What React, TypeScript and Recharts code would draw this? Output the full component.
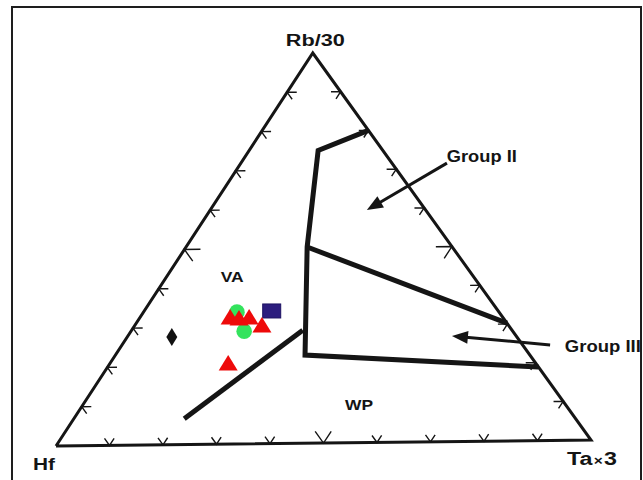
import React from "react";
import { ReferenceDot, Scatter, ScatterChart, XAxis, YAxis } from "recharts";

type Tern = { rb: number; hf: number; ta: number };

// corners of the diagram (percent)
const corners: Tern[] = [
  { rb: 0, hf: 100, ta: 0 },
  { rb: 0, hf: 0, ta: 100 },
  { rb: 100, hf: 0, ta: 0 },
];

// field boundaries
const groupIIBoundary: Tern[] = [
  { rb: 80, hf: 0, ta: 20 },
  { rb: 75, hf: 12, ta: 13 },
  { rb: 50.3, hf: 26.9, ta: 22.8 },
  { rb: 22.6, hf: 41.7, ta: 35.7 },
  { rb: 18.9, hf: 0, ta: 81.1 },
];
const groupIIIBoundary: Tern[] = [
  { rb: 50.3, hf: 26.9, ta: 22.8 },
  { rb: 30.2, hf: 0, ta: 69.8 },
];
const vaWpBoundary: Tern[] = [
  { rb: 6.6, hf: 72.6, ta: 20.8 },
  { rb: 29.0, hf: 38.8, ta: 32.2 },
];

// samples
const diamondSamples: Tern[] = [{ rb: 27.6, hf: 64.0, ta: 8.4 }];
const squareSamples: Tern[] = [{ rb: 34.0, hf: 42.0, ta: 24.0 }];
const circleSamples: Tern[] = [
  { rb: 33.8, hf: 48.6, ta: 17.6 },
  { rb: 28.9, hf: 49.8, ta: 21.3 },
];
const triangleSamples: Tern[] = [
  { rb: 32.6, hf: 50.5, ta: 16.9 },
  { rb: 32.3, hf: 49.0, ta: 18.7 },
  { rb: 32.5, hf: 47.0, ta: 20.5 },
  { rb: 30.4, hf: 45.7, ta: 23.9 },
  { rb: 20.8, hf: 57.0, ta: 22.2 },
];

// arrows: tail, tip
const arrowGroupII: Tern[] = [
  { rb: 71.4, hf: -10.2, ta: 38.8 },
  { rb: 59.6, hf: 10.9, ta: 29.5 },
];
const arrowGroupIII: Tern[] = [
  { rb: 24.5, hf: -5.1, ta: 80.6 },
  { rb: 27.1, hf: 11.9, ta: 61.0 },
];

const fieldLabels = ["VA", "WP", "Group II", "Group III"];
const fieldLabelPos: Tern[] = [
  { rb: 42.8, hf: 44.8, ta: 12.4 },
  { rb: 9.7, hf: 38.3, ta: 52.0 },
  { rb: 73.1, hf: -17.6, ta: 44.5 },
  { rb: 24.0, hf: -14.7, ta: 90.7 },
];

const tickSteps = [10, 20, 30, 40, 50, 60, 70, 80, 90];

// the printed triangle is not equilateral: apex sits a bit left, base tilts up to the right
const APEX_X = 48;
const BASE_TILT = 1.5;
const toXY = (p: Tern) => {
  const s = p.rb + p.hf + p.ta;
  return {
    x: (p.ta * 100 + p.rb * APEX_X) / s,
    y: (p.ta * BASE_TILT + p.rb * 100) / s,
  };
};

const outline = [...corners, corners[0]].map(toXY);

const tickPoints = tickSteps.flatMap((t) => {
  const L = t === 50 ? 3 : 1.8;
  return [
    // Hf - Ta edge
    { rb: L, hf: 100 - t - L, ta: t },
    { rb: 0, hf: 100 - t, ta: t },
    { rb: L, hf: 100 - t, ta: t - L },
    // Hf - Rb edge
    { rb: t, hf: 100 - t - L, ta: L },
    { rb: t, hf: 100 - t, ta: 0 },
    { rb: t - L, hf: 100 - t, ta: L },
    // Ta - Rb edge
    { rb: t, hf: L, ta: 100 - t - L },
    { rb: t, hf: 0, ta: 100 - t },
    { rb: t - L, hf: L, ta: 100 - t },
  ].map(toXY);
});

const INK = "#151515";
const font = { fontFamily: "'Liberation Sans', Arial, sans-serif", fontWeight: 700, fill: "#141414" };

const none = () => <g />;

const chevrons = (props: any) => {
  const pts = props.points || [];
  let d = "";
  for (let i = 0; i + 2 < pts.length; i += 3) {
    d += `M${pts[i].x},${pts[i].y}L${pts[i + 1].x},${pts[i + 1].y}L${pts[i + 2].x},${pts[i + 2].y}`;
  }
  return <path d={d} fill="none" stroke={INK} strokeWidth={1.4} />;
};

const arrow = (props: any) => {
  const [a, b] = props.points;
  const dx = b.x - a.x;
  const dy = b.y - a.y;
  const len = Math.hypot(dx, dy);
  const ux = dx / len;
  const uy = dy / len;
  const head = 16;
  const half = 6.5;
  const bx = b.x - ux * head;
  const by = b.y - uy * head;
  return (
    <g>
      <line x1={a.x} y1={a.y} x2={bx + ux * 2} y2={by + uy * 2} stroke={INK} strokeWidth={3} />
      <polygon
        points={`${b.x},${b.y} ${bx - uy * half},${by + ux * half} ${bx + uy * half},${by - ux * half}`}
        fill={INK}
      />
    </g>
  );
};

const Diamond = (p: any) => (
  <polygon points={`${p.cx},${p.cy - 9} ${p.cx + 5.5},${p.cy} ${p.cx},${p.cy + 9} ${p.cx - 5.5},${p.cy}`} fill="#111" />
);
const Square = (p: any) => (
  <rect x={p.cx - 9} y={p.cy - 7} width={18} height={14} fill="#2c1d7e" stroke="#1c1262" strokeWidth={1} />
);
const Circle = (p: any) => <circle cx={p.cx} cy={p.cy} r={7.8} fill="#33e35d" />;
const Triangle = (p: any) => (
  <polygon points={`${p.cx},${p.cy - 8} ${p.cx + 9.5},${p.cy + 7.5} ${p.cx - 9.5},${p.cy + 7.5}`} fill="#ee0a0a" />
);

const fieldStyle = [
  { size: 15, len: 23 },
  { size: 15.5, len: 28 },
  { size: 16.5, len: 70 },
  { size: 16, len: 76 },
];

export default function App() {
  const lineStyle = { stroke: INK, strokeWidth: 5, strokeLinejoin: "miter" as const };
  return (
    <div style={{ position: "relative", width: 643, height: 480, overflow: "hidden", background: "#fff" }}>
      <style>{"body{margin:0}"}</style>
      <div
        style={{
          position: "absolute",
          left: 11,
          top: 6,
          width: 631,
          height: 490,
          border: "2px solid #1e1e1e",
          boxSizing: "border-box",
        }}
      />
      <ScatterChart
        width={643}
        height={480}
        margin={{ top: 33.35, right: 25.25, bottom: 14.35, left: 29.25 }}
        style={{ position: "absolute", left: 0, top: 0 }}
      >
        <XAxis type="number" dataKey="x" domain={[-5, 105]} hide />
        <YAxis type="number" dataKey="y" domain={[-5, 105]} hide />

        <Scatter data={outline} line={{ stroke: INK, strokeWidth: 3 }} shape={none} isAnimationActive={false} />
        <Scatter data={tickPoints} line={chevrons} shape={none} isAnimationActive={false} />
        <Scatter data={groupIIBoundary.map(toXY)} line={lineStyle} shape={none} isAnimationActive={false} />
        <Scatter data={groupIIIBoundary.map(toXY)} line={lineStyle} shape={none} isAnimationActive={false} />
        <Scatter data={vaWpBoundary.map(toXY)} line={lineStyle} shape={none} isAnimationActive={false} />
        <Scatter data={arrowGroupII.map(toXY)} line={arrow} shape={none} isAnimationActive={false} />
        <Scatter data={arrowGroupIII.map(toXY)} line={arrow} shape={none} isAnimationActive={false} />

        <Scatter data={diamondSamples.map(toXY)} shape={Diamond} isAnimationActive={false} />
        <Scatter data={squareSamples.map(toXY)} shape={Square} isAnimationActive={false} />
        <Scatter data={circleSamples.map(toXY)} shape={Circle} isAnimationActive={false} />
        <Scatter data={triangleSamples.map(toXY)} shape={Triangle} isAnimationActive={false} />

        {fieldLabels.map((label, i) => {
          const pos = toXY(fieldLabelPos[i]);
          const st = fieldStyle[i];
          return (
            <ReferenceDot
              key={label}
              x={pos.x}
              y={pos.y}
              r={0}
              ifOverflow="visible"
              shape={(p: any) => (
                <text
                  x={p.cx}
                  y={p.cy + st.size * 0.36}
                  textAnchor="middle"
                  fontSize={st.size}
                  textLength={st.len}
                  lengthAdjust="spacingAndGlyphs"
                  {...font}
                >
                  {label}
                </text>
              )}
            />
          );
        })}

        <ReferenceDot
          {...toXY(corners[2])}
          r={0}
          ifOverflow="visible"
          shape={(p: any) => (
            <text x={p.cx + 2.5} y={p.cy - 7} textAnchor="middle" fontSize={16} textLength={59} lengthAdjust="spacingAndGlyphs" {...font}>
              Rb/30
            </text>
          )}
        />
        <ReferenceDot
          {...toXY(corners[0])}
          r={0}
          ifOverflow="visible"
          shape={(p: any) => (
            <text x={p.cx - 23} y={p.cy + 24} fontSize={17} textLength={22} lengthAdjust="spacingAndGlyphs" {...font}>
              Hf
            </text>
          )}
        />
        <ReferenceDot
          {...toXY(corners[1])}
          r={0}
          ifOverflow="visible"
          shape={(p: any) => (
            <text x={p.cx - 24} y={p.cy + 25} fontSize={18} textLength={50} lengthAdjust="spacingAndGlyphs" {...font}>
              Ta
              <tspan fontSize={12} dx={1}>×</tspan>
              <tspan dx={1}>3</tspan>
            </text>
          )}
        />
      </ScatterChart>
    </div>
  );
}
